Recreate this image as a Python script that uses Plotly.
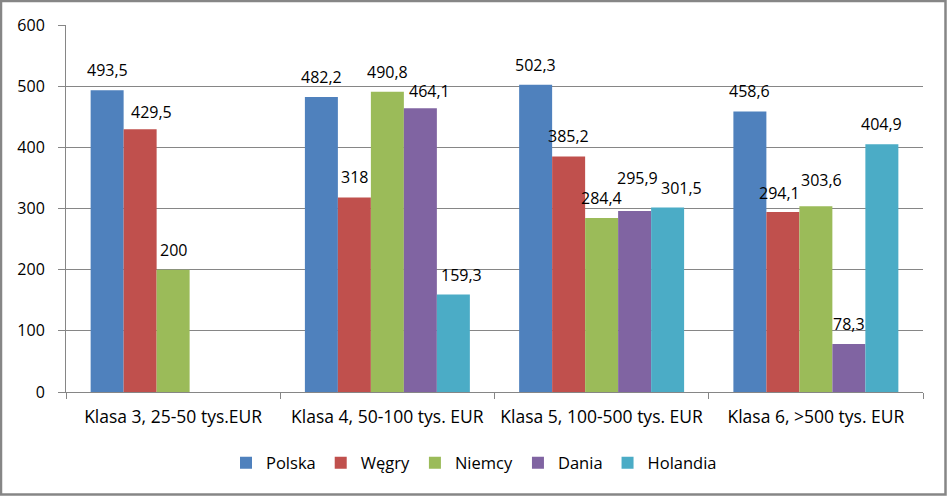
import plotly.graph_objects as go

categories = ["Klasa 3, 25-50 tys.EUR", "Klasa 4, 50-100 tys. EUR",
              "Klasa 5, 100-500 tys. EUR", "Klasa 6, >500 tys. EUR"]
polska = [493.5, 482.2, 502.3, 458.6]
wegry = [429.5, 318, 385.2, 294.1]
niemcy = [200, 490.8, 284.4, 303.6]
dania = [None, 464.1, 295.9, 78.3]
holandia = [None, 159.3, 301.5, 404.9]

series = [("Polska", polska, "#4F81BD"), ("Węgry", wegry, "#C0504D"),
          ("Niemcy", niemcy, "#9BBB59"), ("Dania", dania, "#8064A2"),
          ("Holandia", holandia, "#4BACC6")]

# label nudges (pixels) for labels moved in the original: (series idx, category idx) -> (dx, dy)
label_nudge = {(1, 0): (11, -3), (3, 1): (9, -3), (4, 1): (8, 0), (3, 2): (3, 13),
               (4, 2): (14, 0), (1, 3): (-3, -1), (2, 3): (6, 6)}

def fmt(v):
    return ("%g" % v).replace(".", ",")

FONT = "'Open Sans', sans-serif"
W, H = 947, 496
L, R, T, B = 66, 24, 25, 104
BARGAP = 0.23

fig = go.Figure()
annotations = []
n = len(series)
bw = (1 - BARGAP) / n
for i, (name, vals, col) in enumerate(series):
    fig.add_trace(go.Bar(
        name=name, x=categories, y=vals, marker_color=col, marker_line_width=0,
        hoverinfo="skip"))
    for j, v in enumerate(vals):
        if v is None:
            continue
        dx, dy = label_nudge.get((i, j), (0, 0))
        annotations.append(dict(
            x=j + (i - (n - 1) / 2) * bw, y=v, xref="x", yref="y",
            text=fmt(v), showarrow=False, xanchor="center", yanchor="middle",
            xshift=dx, yshift=20 + dy,
            font=dict(family=FONT, size=16, color="#000000")))

pw, ph = W - L - R, H - T - B
fig.update_layout(
    width=W, height=H, margin=dict(l=L, r=R, t=T, b=B, autoexpand=False),
    paper_bgcolor="white", plot_bgcolor="white",
    barmode="group", bargap=BARGAP, bargroupgap=0,
    font=dict(family=FONT, size=16, color="#000000"),
    showlegend=True,
    legend=dict(orientation="h", x=(474 - L) / pw, xanchor="center",
                y=(T + ph - 463) / ph, yanchor="middle",
                font=dict(family=FONT, size=16.5, color="#000000"),
                itemwidth=30, traceorder="normal"),
    xaxis=dict(type="category", showline=True, linecolor="#868686", linewidth=1,
               ticks="outside", tickson="boundaries", ticklen=6, tickcolor="#868686",
               showgrid=False, tickfont=dict(family=FONT, size=17.5),
               ticklabelstandoff=9),
    yaxis=dict(range=[0, 600], dtick=100, showline=True, linecolor="#868686",
               linewidth=1, ticks="outside", ticklen=7, tickcolor="#868686",
               showgrid=True, gridcolor="#868686", gridwidth=1, zeroline=False,
               tickfont=dict(family=FONT, size=16), ticklabelstandoff=10),
    annotations=annotations,
    shapes=[dict(type="rect", xref="paper", yref="paper",
                 x0=(1 - L) / pw, x1=(W - 1.5 - L) / pw,
                 y0=(T + ph - (H - 1.5)) / ph, y1=(T + ph - 1) / ph,
                 line=dict(color="#868686", width=2.5), fillcolor="rgba(0,0,0,0)",
                 layer="above")],
)

fig.write_html("out.html", config={"displayModeBar": False},
               post_script="document.body.style.margin='0px';")
